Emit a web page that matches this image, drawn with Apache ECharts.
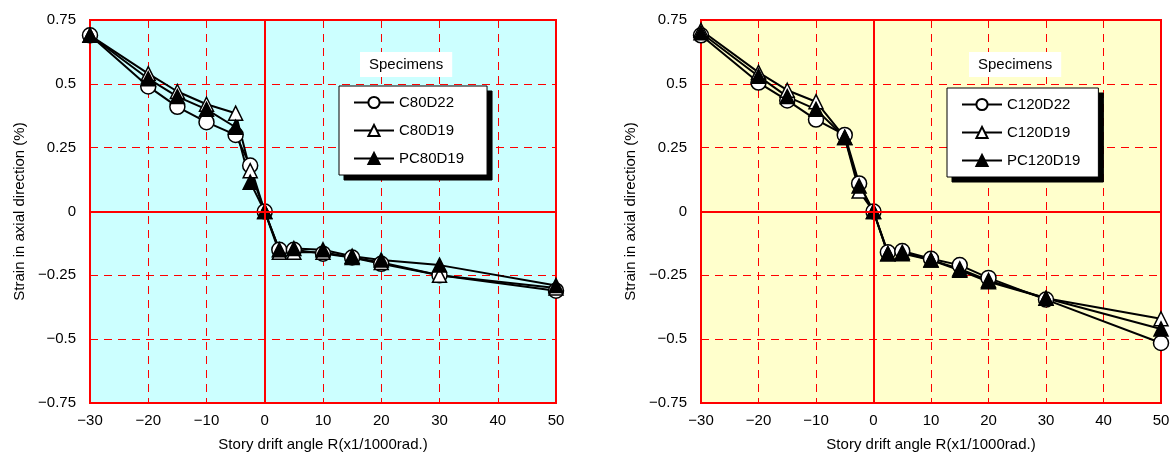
<!DOCTYPE html>
<html>
<head>
<meta charset="utf-8">
<script src="https://cdn.jsdelivr.net/npm/echarts@6/dist/echarts.min.js"></script>
<style>
  html, body { margin: 0; padding: 0; background: #fff; }
  #chart { width: 1174px; height: 469px; }
</style>
</head>
<body>
<div id="chart"></div>
<script>
// drift angles R (x1/1000 rad)
const drift = [-30, -20, -15, -10, -5, -2.5, 0, 2.5, 5, 10, 15, 20, 30, 50];

// left chart
const c80d22 = [0.69, 0.49, 0.41, 0.35, 0.30, 0.18, 0, -0.15, -0.15, -0.165, -0.18, -0.205, -0.25, -0.31];
const c80d19 = [0.69, 0.54, 0.47, 0.42, 0.385, 0.16, 0, -0.16, -0.16, -0.16, -0.18, -0.20, -0.25, -0.30];
const pc80d19 = [0.69, 0.52, 0.45, 0.40, 0.33, 0.115, 0, -0.15, -0.145, -0.15, -0.175, -0.19, -0.21, -0.29];

// right chart
const c120d22 = [0.69, 0.505, 0.435, 0.36, 0.30, 0.11, 0, -0.16, -0.155, -0.185, -0.21, -0.26, -0.345, -0.515];
const c120d19 = [0.71, 0.545, 0.475, 0.43, 0.29, 0.08, 0, -0.165, -0.165, -0.19, -0.225, -0.27, -0.34, -0.42];
const pc120d19 = [0.70, 0.53, 0.45, 0.40, 0.29, 0.10, 0, -0.165, -0.16, -0.19, -0.23, -0.275, -0.34, -0.46];

const leftNames = ['C80D22', 'C80D19', 'PC80D19'];
const rightNames = ['C120D22', 'C120D19', 'PC120D19'];

const xTicks = { '-30': '\u221230', '-20': '\u221220', '-10': '\u221210' };
const yTicks = { '0.75': '0.75', '0.5': '0.5', '0.25': '0.25', '0': '0', '-0.25': '\u22120.25', '-0.5': '\u22120.5', '-0.75': '\u22120.75' };

const font = 'Liberation Sans, Arial, sans-serif';
const red = '#ff0000';

let chartDom = document.getElementById('chart');
let myChart = echarts.init(chartDom);

function pairs(vals) {
  return drift.map((x, i) => [x, vals[i]]);
}

function xAxis(idx) {
  return {
    type: 'value', gridIndex: idx, min: -30, max: 50, interval: 10,
    name: 'Story drift angle R(x1/1000rad.)', nameLocation: 'middle', nameGap: 34,
    nameTextStyle: { color: '#000', fontSize: 15, fontFamily: font },
    axisLine: { show: false }, axisTick: { show: false },
    axisLabel: { color: '#000', fontSize: 15, fontFamily: font, margin: 10,
      formatter: v => xTicks[String(v)] || String(v) },
    splitLine: { lineStyle: { color: red, type: [8, 6], width: 1 } }
  };
}

function yAxis(idx) {
  return {
    type: 'value', gridIndex: idx, min: -0.75, max: 0.75, interval: 0.25,
    name: 'Strain in axial direction (%)', nameLocation: 'middle', nameGap: 63,
    nameTextStyle: { color: '#000', fontSize: 15, fontFamily: font },
    axisLine: { show: false }, axisTick: { show: false },
    axisLabel: { color: '#000', fontSize: 15, fontFamily: font, margin: 14,
      formatter: v => yTicks[String(v)] || String(v) },
    splitLine: { lineStyle: { color: red, type: [8, 6], width: 1 } }
  };
}

function series(name, vals, idx, kind, withZero) {
  let s = {
    name: name, type: 'line', xAxisIndex: idx, yAxisIndex: idx,
    data: pairs(vals),
    symbol: kind === 'circle' ? 'circle' : 'triangle',
    symbolSize: kind === 'circle' ? 15 : 14,
    lineStyle: { color: '#000', width: 2 },
    itemStyle: { color: kind === 'filled' ? '#000' : '#fff', borderColor: '#000', borderWidth: 1.5 },
    animation: false
  };
  if (withZero) {
    s.markLine = {
      silent: true, symbol: ['none', 'none'], label: { show: false },
      lineStyle: { color: red, type: 'solid', width: 2 },
      data: [{ xAxis: 0 }, { yAxis: 0 }]
    };
  }
  return s;
}

function legend(left, top, names, padRight) {
  return {
    data: names, orient: 'vertical', left: left, top: top, z: 5,
    itemWidth: 40, itemHeight: 14, itemGap: 13,
    padding: [9, padRight, 9, 14],
    backgroundColor: '#fff', borderColor: '#000', borderWidth: 1,
    textStyle: { color: '#000', fontSize: 15, fontFamily: font }
  };
}

// same box drawn black, offset, as the drop shadow
function legendShadow(left, top, names, padRight) {
  let l = legend(left + 5, top + 5, names, padRight);
  l.z = 4;
  l.backgroundColor = '#000';
  l.textStyle = { color: '#000', fontSize: 15, fontFamily: font };
  l.itemStyle = { color: '#000', borderColor: '#000' };
  l.lineStyle = { color: '#000' };
  l.selectedMode = false;
  return l;
}

function title(left, top) {
  return {
    text: 'Specimens', left: left, top: top, padding: [5, 9], backgroundColor: '#fff',
    textStyle: { color: '#000', fontSize: 15, fontWeight: 'normal', fontFamily: font }
  };
}

let option = {
  backgroundColor: '#fff',
  title: [title(360, 52), title(969, 52)],
  legend: [
    legendShadow(339, 86, leftNames, 23),
    legendShadow(947, 88, rightNames, 18),
    legend(339, 86, leftNames, 23),
    legend(947, 88, rightNames, 18)
  ],
  grid: [
    { left: 90, top: 20, width: 466, height: 383, show: true, backgroundColor: '#ccffff', borderColor: red, borderWidth: 2 },
    { left: 701, top: 20, width: 460, height: 383, show: true, backgroundColor: '#ffffcc', borderColor: red, borderWidth: 2 }
  ],
  xAxis: [xAxis(0), xAxis(1)],
  yAxis: [yAxis(0), yAxis(1)],
  series: [
    series('C80D22', c80d22, 0, 'circle', true),
    series('C80D19', c80d19, 0, 'open', false),
    series('PC80D19', pc80d19, 0, 'filled', false),
    series('C120D22', c120d22, 1, 'circle', true),
    series('C120D19', c120d19, 1, 'open', false),
    series('PC120D19', pc120d19, 1, 'filled', false)
  ]
};

option && myChart.setOption(option);
</script>
</body>
</html>
